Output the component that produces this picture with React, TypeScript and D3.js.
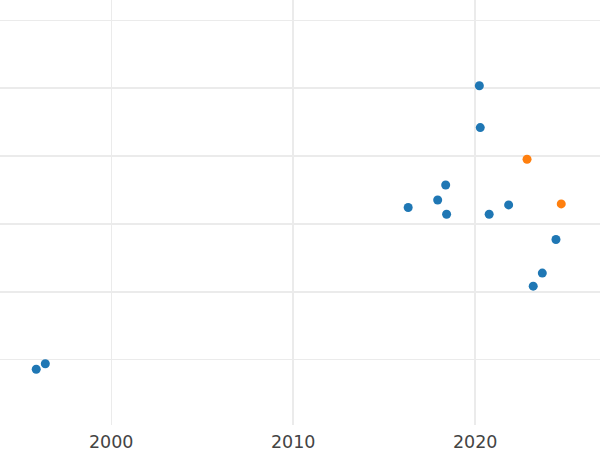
import React from "react";
import * as d3 from "d3";

const years: number[] = [1995.88, 1996.38, 2016.32, 2017.94, 2018.38, 2018.43, 2020.23, 2020.28, 2020.77, 2021.84, 2023.19, 2023.69, 2024.44];
const values: number[] = [-1.44, -0.62, 22.42, 23.53, 25.74, 21.43, 40.38, 34.2, 21.43, 22.8, 10.82, 12.74, 17.7];
const highlightYears: number[] = [2022.85, 2024.73];
const highlightValues: number[] = [29.53, 22.95];
const xTicks: number[] = [2000, 2010, 2020];
const yTicks: number[] = [0, 10, 20, 30, 40, 50];

const W = 600;
const H = 450;
const plotBottom = 425;

export default function App() {
  const x = d3.scaleLinear().domain([1993.89, 2026.86]).range([0, W]);
  const y = d3.scaleLinear().domain([0, 50]).range([359.5, 20.5]);
  const blue = "#1f77b4";
  const orange = "#ff7f0e";
  return (
    <svg
      width={W}
      height={H}
      style={{ position: "absolute", left: 0, top: 0, background: "#fff" }}
    >
      <g>
        {yTicks.map((t) => {
          const edge = t === 0 || t === 50;
          return (
            <line
              key={"y" + t}
              x1={0}
              x2={W}
              y1={edge ? y(t) : Math.round(y(t))}
              y2={edge ? y(t) : Math.round(y(t))}
              stroke="#ebebeb"
              strokeWidth={edge ? 1 : 2}
            />
          );
        })}
        {xTicks.map((t) => {
          const edge = t === 2000;
          return (
            <line
              key={"x" + t}
              x1={edge ? Math.floor(x(t)) + 0.5 : Math.round(x(t))}
              x2={edge ? Math.floor(x(t)) + 0.5 : Math.round(x(t))}
              y1={0}
              y2={plotBottom}
              stroke="#ebebeb"
              strokeWidth={edge ? 1 : 2}
            />
          );
        })}
      </g>
      <g>
        {years.map((yr, i) => (
          <circle key={"b" + i} cx={x(yr)} cy={y(values[i])} r={4.5} fill={blue} />
        ))}
        {highlightYears.map((yr, i) => (
          <circle key={"o" + i} cx={x(yr)} cy={y(highlightValues[i])} r={4.5} fill={orange} />
        ))}
      </g>
      <g>
        {xTicks.map((t) => (
          <text
            key={"l" + t}
            x={x(t)}
            y={447.5}
            textAnchor="middle"
            fontFamily="DejaVu Sans, sans-serif"
            fontSize={17.5}
            fill="#444"
          >
            {t}
          </text>
        ))}
      </g>
    </svg>
  );
}
